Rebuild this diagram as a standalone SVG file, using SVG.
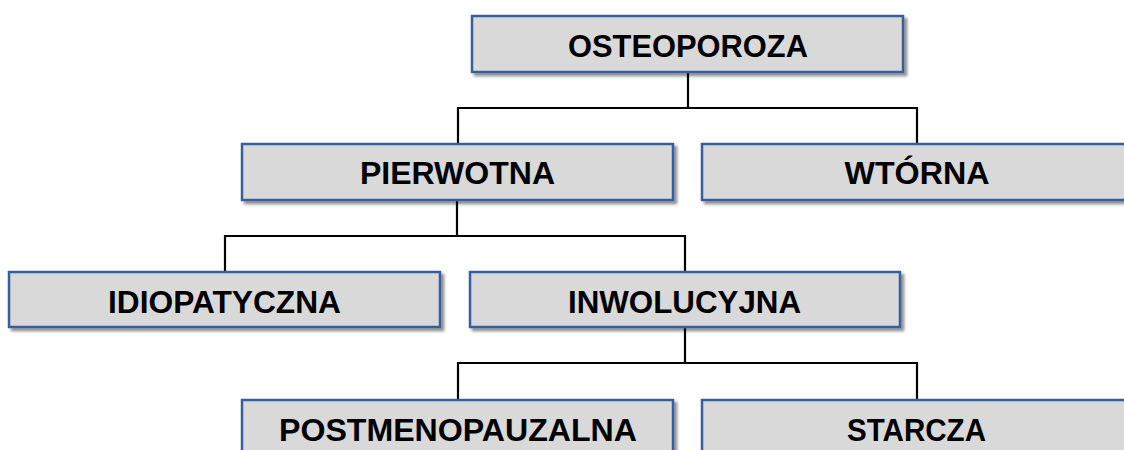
<svg xmlns="http://www.w3.org/2000/svg" width="1124" height="450" viewBox="0 0 1124 450">
<style>
.box{fill:#d9d9d9;stroke:#395e9c;stroke-width:2.5;filter:url(#sh)}
.lbl{font-family:"Liberation Sans",Arial,sans-serif;font-weight:bold;font-size:32px;fill:#000;text-anchor:middle}
.con{fill:none;stroke:#000;stroke-width:2.2}
</style>
<defs>
<filter id="sh" x="-5%" y="-20%" width="115%" height="150%">
<feGaussianBlur in="SourceAlpha" stdDeviation="1.8"/>
<feOffset dx="3" dy="3" result="b"/>
<feComponentTransfer><feFuncA type="linear" slope="0.45"/></feComponentTransfer>
<feMerge><feMergeNode/><feMergeNode in="SourceGraphic"/></feMerge>
</filter>
</defs>
<rect width="1124" height="450" fill="#fff"/>
<g id="connectors">
<path class="con" d="M688 72V108M458 144V108H917V144"/>
<path class="con" d="M457 200V236M225 272V236H685V272"/>
<path class="con" d="M685 327V363M458 400V363H917V400"/>
</g>
<g id="osteoporoza"><rect class="box" x="472" y="16" width="431" height="56"/><text class="lbl" x="688" y="57" textLength="240" lengthAdjust="spacingAndGlyphs">OSTEOPOROZA</text></g>
<g id="pierwotna"><rect class="box" x="242" y="144" width="431" height="56"/><text class="lbl" x="457.5" y="184" textLength="195" lengthAdjust="spacingAndGlyphs">PIERWOTNA</text></g>
<g id="wtorna"><rect class="box" x="702" y="144" width="431" height="56"/><text class="lbl" x="917" y="184" textLength="145" lengthAdjust="spacingAndGlyphs">WTÓRNA</text></g>
<g id="idiopatyczna"><rect class="box" x="9" y="272" width="431" height="55"/><text class="lbl" x="224.5" y="313" textLength="233" lengthAdjust="spacingAndGlyphs">IDIOPATYCZNA</text></g>
<g id="inwolucyjna"><rect class="box" x="470" y="272" width="430" height="55"/><text class="lbl" x="684.5" y="313" textLength="233" lengthAdjust="spacingAndGlyphs">INWOLUCYJNA</text></g>
<g id="postmenopauzalna"><rect class="box" x="242" y="400" width="431" height="56"/><text class="lbl" x="458" y="441" textLength="358" lengthAdjust="spacingAndGlyphs">POSTMENOPAUZALNA</text></g>
<g id="starcza"><rect class="box" x="702" y="400" width="431" height="56"/><text class="lbl" x="916.5" y="441" textLength="139" lengthAdjust="spacingAndGlyphs">STARCZA</text></g>
</svg>
